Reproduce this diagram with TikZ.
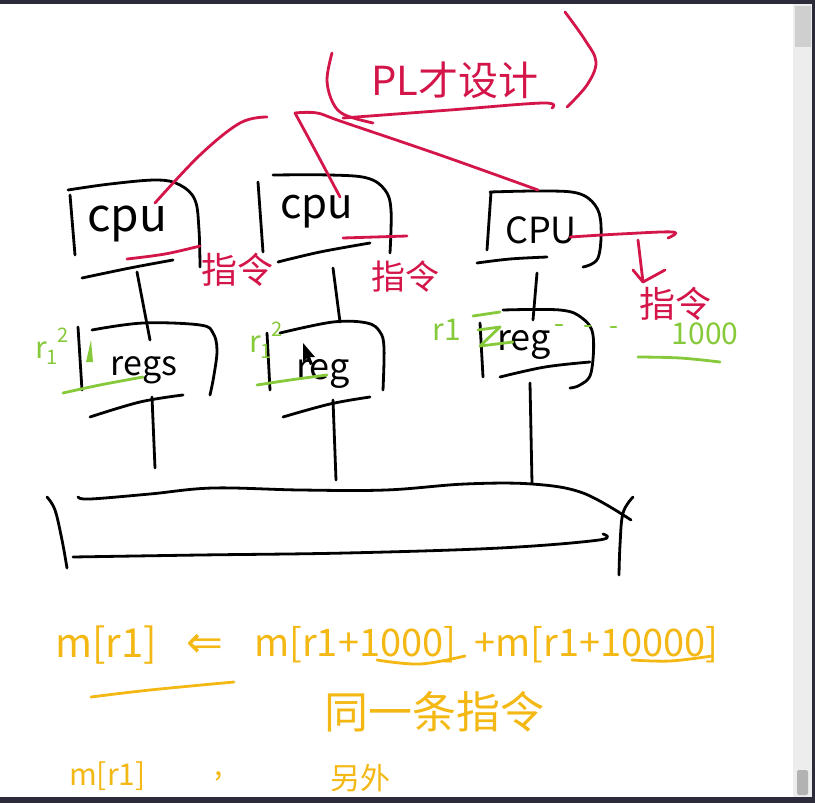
\documentclass[tikz,border=0pt]{standalone}
\usepackage{fontspec}
\setmainfont{Noto Sans CJK SC}
\newfontfamily\symfont{DejaVu Sans}
\definecolor{inkred}{HTML}{D3154A}
\definecolor{inkgreen}{HTML}{86C93A}
\definecolor{inkorange}{HTML}{F4B814}
\definecolor{frame}{HTML}{2C2B3A}
\definecolor{barbg}{HTML}{EDEDED}
\definecolor{thumb}{HTML}{CFCFCF}
\begin{document}
\begin{tikzpicture}[x=1pt,y=-1pt,
  ink/.style={line width=2.8pt,line cap=round,line join=round},
  blk/.style={ink,black},
  rd/.style={ink,inkred},
  gr/.style={ink,inkgreen},
  og/.style={ink,inkorange},
  lbl/.style={inner sep=0pt,anchor=center},
  sm/.style={smooth,tension=0.6}]
\useasboundingbox (0,0) rectangle (815,803);
\fill[white] (0,0) rectangle (815,803);

% ---------- title ----------
\node[lbl,text=inkred,font=\fontsize{40}{44}\selectfont] (title) at (455,80) {PL才设计};
\draw[rd] plot[sm] coordinates {(332,53) (327,80) (333,103) (345,115) (373,123)};
\draw[rd] plot[sm] coordinates {(565,12) (585,40) (596,62) (587,85) (567,107)};
\draw[rd] plot[sm] coordinates {(343,118) (450,110) (543,103) (552,108)};
\coordinate (hubA) at (267,117);
\coordinate (hubB) at (295,113);

% ---------- CPU boxes ----------
\node[lbl,font=\fontsize{46}{50}\selectfont] (cpu1) at (127,224) {cpu};
\node[lbl,font=\fontsize{42}{46}\selectfont] (cpu2) at (317,212) {cpu};
\node[lbl,font=\fontsize{36}{40}\selectfont] (cpu3) at (541,230) {CPU};

% box1
\draw[blk] (70,195) -- (75,255);
\draw[blk] plot[sm] coordinates {(68,190) (110,184) (157,180) (180,185) (195,200) (199,230) (200,267)};
\draw[blk] plot[sm] coordinates {(82,278) (130,268) (173,260)};
% box2
\draw[blk] (258,182) -- (263,252);
\draw[blk] plot[sm] coordinates {(273,175) (330,175) (367,178) (385,190) (391,210) (390,253)};
\draw[blk] plot[sm] coordinates {(278,262) (320,252) (370,243)};
% box3
\draw[blk] (491,192) -- (487,250);
\draw[blk] plot[sm] coordinates {(490,192) (540,191) (577,193) (595,205) (601,225) (598,258) (583,267)};
\draw[blk] plot[sm] coordinates {(477,263) (510,259) (547,257)};

% red fan from title
\coordinate (c1top) at (155,203);
\coordinate (c2top) at (340,197);
\coordinate (c3top) at (538,190);
\draw[rd] plot[sm] coordinates {(hubA) (240,123) (200,155) (c1top)};
\draw[rd] plot[sm] coordinates {(hubB) (315,150) (c2top)};
\draw[rd] plot[sm] coordinates {(hubB) (317,113) (343,122) (440,155) (c3top)};

% red instruction lines
\draw[rd] plot[sm] coordinates {(127,259) (165,254) (200,246)};
\draw[rd] plot[sm] coordinates {(343,238) (375,237) (407,236)};
\draw[rd] plot[sm] coordinates {(570,237) (620,234) (673,232) (668,238)};
\coordinate (arrTop) at (638,240);
\coordinate (arrTip) at (643,282);
\draw[rd] (arrTop) -- (arrTip);
\draw[rd] (633,270) -- (arrTip) -- (665,270);

\node[lbl,text=inkred,font=\fontsize{36}{40}\selectfont] (ins1) at (237,270) {指令};
\node[lbl,text=inkred,font=\fontsize{34}{38}\selectfont] (ins2) at (405,277) {指令};
\node[lbl,text=inkred,font=\fontsize{36}{40}\selectfont] (ins3) at (675,304) {指令};
\node[lbl,text=inkgreen,font=\fontsize{30}{34}\selectfont] (num) at (705,334) {1000};
\draw[gr] plot[sm] coordinates {(638,357) (680,358) (720,362)};

% ---------- register boxes ----------
\node[lbl,font=\fontsize{34}{38}\selectfont] (reg1) at (144,370) {regs};
\node[lbl,font=\fontsize{36}{40}\selectfont] (reg2) at (323,374) {reg};
\node[lbl,font=\fontsize{36}{40}\selectfont] (reg3) at (524,345) {reg};

% reg1
\draw[blk] (78,327) -- (82,390);
\draw[blk] plot[sm] coordinates {(92,330) (143,323) (200,325) (213,333) (217,350) (214,375) (210,395)};
\draw[blk] plot[sm] coordinates {(90,417) (140,402) (183,395)};
% reg2
\draw[blk] (267,333) -- (270,390);
\draw[blk] plot[sm] coordinates {(280,333) (333,322) (367,323) (380,332) (384,348) (383,390)};
\draw[blk] plot[sm] coordinates {(283,417) (330,404) (370,397)};
% reg3
\draw[blk] (480,323) -- (483,377);
\draw[blk] plot[sm] coordinates {(503,310) (560,310) (582,318) (593,335) (591,373) (580,385) (570,388)};
\draw[blk] plot[sm] coordinates {(500,377) (545,367) (590,362)};

% cpu -> reg connectors
\coordinate (c1b) at (137,272); \coordinate (r1t) at (150,340);
\coordinate (c2b) at (333,268); \coordinate (r2t) at (340,322);
\coordinate (c3b) at (537,273); \coordinate (r3t) at (533,320);
\draw[blk] (c1b) -- (r1t);
\draw[blk] (c2b) -- (r2t);
\draw[blk] (c3b) -- (r3t);

% green register marks
\node[lbl,text=inkgreen,font=\fontsize{30}{34}\selectfont] (rl1) at (52,346) {r\raisebox{-0.2em}{\fontsize{20}{22}\selectfont 1}\raisebox{0.55em}{\fontsize{20}{22}\selectfont 2}};
\node[lbl,text=inkgreen,font=\fontsize{30}{34}\selectfont] (rl2) at (266,340) {r\raisebox{-0.2em}{\fontsize{20}{22}\selectfont 1}\raisebox{0.55em}{\fontsize{20}{22}\selectfont 2}};
\node[lbl,text=inkgreen,font=\fontsize{30}{34}\selectfont] (rl3) at (447,330) {r1};
\draw[gr] (473,316) -- (500,312);
\draw[gr] (478,330) -- (500,327) -- (480,346) -- (513,342);
\fill[inkgreen] (91,340) -- (93,362) -- (86,362) -- cycle;
\draw[gr] plot[sm] coordinates {(63,393) (100,385) (143,377)};
\draw[gr] plot[sm] coordinates {(257,385) (290,380) (327,375)};
\draw[gr] (556,325) -- (562,325);
\draw[gr] (585,326) -- (590,326);
\draw[gr] (611,327) -- (616,327);

% mouse cursor
\fill[black] (303,343) -- (303,362) -- (307,358) -- (310,365) -- (313,364) -- (310,357) -- (315,357) -- cycle;

% ---------- bus ----------
\coordinate (b1) at (155,468);
\coordinate (b2) at (336,480);
\coordinate (b3) at (532,483);
\coordinate (r1b) at (152,397);
\coordinate (r2b) at (333,400);
\coordinate (r3b) at (530,383);
\draw[blk] (r1b) -- (b1);
\draw[blk] (r2b) -- (b2);
\draw[blk] (r3b) -- (b3);
\draw[blk] plot[sm] coordinates {(78,497) (90,499) (150,494) (213,488) (300,490) (386,490) (465,484) (532,484) (583,493) (631,520)};
\draw[blk] plot[sm] coordinates {(47,497) (55,510) (62,540) (67,568)};
\draw[blk] plot[sm] coordinates {(633,497) (623,513) (620,545) (619,575)};
\draw[blk] plot[sm] coordinates {(73,557) (200,555) (346,553) (500,548) (599,540) (603,534)};

% ---------- orange formula ----------
\node[lbl,anchor=west,text=inkorange,font=\fontsize{40}{44}\selectfont] (lhs) at (55,645) {m[r1]};
\node[lbl,text=inkorange,font=\symfont\fontsize{44}{48}\selectfont] (larr) at (205,646) {⇐};
\node[lbl,anchor=west,text=inkorange,font=\fontsize{38}{42}\selectfont] (rhs1) at (254,645) {m[r1+1000]};
\node[lbl,anchor=west,text=inkorange,font=\fontsize{38}{42}\selectfont] (rhs2) at (474,645) {+m[r1+10000]};
\draw[og] plot[sm] coordinates {(91,697) (150,690) (234,682)};
\draw[og] plot[sm] coordinates {(377,660) (420,664) (465,656)};
\draw[og] plot[sm] coordinates {(632,660) (670,661) (712,656)};
\node[lbl,text=inkorange,font=\fontsize{44}{48}\selectfont] (same) at (434,712) {同一条指令};
\node[lbl,anchor=west,text=inkorange,font=\fontsize{30}{34}\selectfont] (bot1) at (69,776) {m[r1]};
\node[lbl,text=inkorange,font=\fontsize{30}{34}\selectfont] (bot2) at (219,776) {,};
\node[lbl,text=inkorange,font=\fontsize{30}{34}\selectfont] (bot3) at (360,778) {另外};

% ---------- window frame ----------
\fill[barbg] (793,4) rectangle (815,797);
\fill[thumb] (795,6) rectangle (811,47);
\fill[frame] (0,0) rectangle (815,4);
\fill[frame] (812,0) rectangle (815,803);
\fill[frame] (0,797) rectangle (815,803);
\fill[gray!60,rounded corners=2pt] (797,770) rectangle (808,795);
\end{tikzpicture}
\end{document}
